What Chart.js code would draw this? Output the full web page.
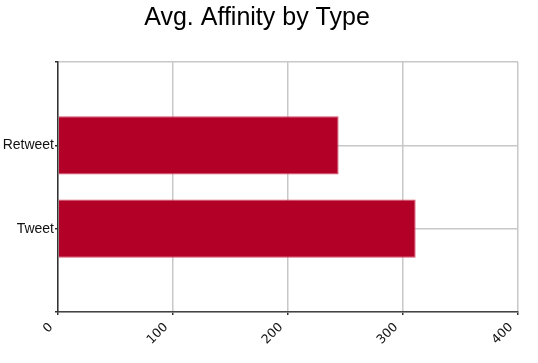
<!DOCTYPE html>
<html>
<head>
<meta charset="utf-8">
<script src="https://cdn.jsdelivr.net/npm/chart.js@4/dist/chart.umd.min.js"></script>
<style>
html,body{margin:0;padding:0;background:#fff;}
#wrap{width:538px;height:363px;position:relative;}
</style>
</head>
<body>
<div id="wrap"><canvas id="c" width="538" height="363"></canvas></div>
<script>
const chartTitle = "Avg. Affinity by Type";
const categories = ["Retweet", "Tweet"];
const affinityValues = [244, 311];
const xTicks = [0, 100, 200, 300, 400];

// pad categories with empty slots so the two bars sit at 1/3 and 2/3 of the axis
const paddedLabels = [""].concat(categories, [""]);
const paddedValues = [null].concat(affinityValues, [null]);

const titlePlugin = {
  id: 'customTitle',
  afterDraw(chart) {
    const ctx = chart.ctx;
    ctx.save();
    ctx.fillStyle = '#000';
    ctx.font = '25px "Liberation Sans", Arial, sans-serif';
    ctx.textAlign = 'center';
    ctx.textBaseline = 'alphabetic';
    ctx.fillText(chartTitle, 257, 25);
    ctx.restore();
  }
};

new Chart(document.getElementById('c'), {
  type: 'bar',
  data: {
    labels: paddedLabels,
    datasets: [{
      data: paddedValues,
      backgroundColor: '#b30026',
      borderColor: '#d8506a',
      borderWidth: 1,
      barPercentage: 0.7,
      categoryPercentage: 1.0
    }]
  },
  options: {
    indexAxis: 'y',
    responsive: false,
    animation: false,
    layout: { padding: { top: 62, right: 20, left: 0, bottom: 0 } },
    plugins: { legend: { display: false }, tooltip: { enabled: false } },
    scales: {
      x: {
        type: 'linear',
        min: xTicks[0],
        max: xTicks[xTicks.length - 1],
        afterBuildTicks(scale) { scale.ticks = xTicks.map(v => ({ value: v })); },
        afterFit(scale) { scale.height = 51; scale.paddingRight = 0; scale.paddingLeft = 0; },
        grid: { color: '#c8c8c8', lineWidth: 1.5, tickLength: 3, tickColor: '#333' },
        border: { color: '#444', width: 1.5 },
        ticks: {
          minRotation: 45, maxRotation: 45, padding: 5, labelOffset: -7,
          color: '#111',
          font: { family: '"DejaVu Sans", sans-serif', size: 12.5 }
        }
      },
      y: {
        type: 'category',
        offset: false,
        afterFit(scale) { scale.width = 58; },
        grid: { offset: false, color: '#c8c8c8', lineWidth: 1.5, tickLength: 3, tickColor: '#333' },
        border: { color: '#333', width: 1.5 },
        ticks: {
          padding: 1,
          color: '#111',
          font: { family: '"Liberation Sans", Arial, sans-serif', size: 14 }
        }
      }
    }
  },
  plugins: [titlePlugin]
});
</script>
</body>
</html>
